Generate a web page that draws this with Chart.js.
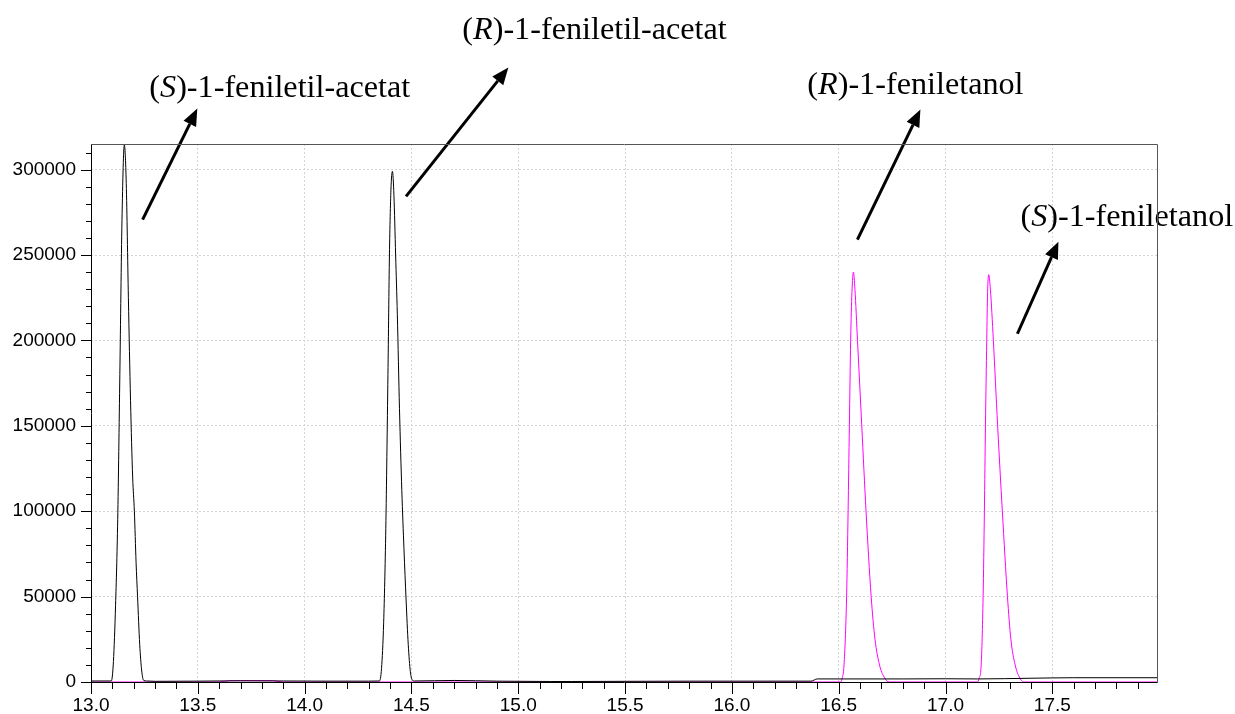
<!DOCTYPE html>
<html><head><meta charset="utf-8">
<script src="https://cdn.jsdelivr.net/npm/chart.js@4/dist/chart.umd.min.js"></script>
<style>html,body{margin:0;padding:0;background:#fff;} #wrap{width:1235px;height:714px;position:relative;}</style>
</head><body><div id="wrap"><canvas id="c"></canvas></div>
<script>
// Retention time (min) and detector signal for the acetate channel (black trace)
const acetateTimes = [13.00, 13.095, 13.105, 13.115, 13.125, 13.135, 13.145, 13.156, 13.165, 13.175, 13.185, 13.195, 13.203, 13.211, 13.218, 13.228, 13.237, 13.246, 13.26, 13.30, 13.50, 13.70, 13.90, 14.10, 14.30,
  14.35, 14.36, 14.37, 14.38, 14.39, 14.397, 14.404, 14.411, 14.418, 14.426, 14.434, 14.444, 14.455, 14.465, 14.475, 14.485, 14.495, 14.505, 14.515,
  14.70, 14.90, 15.15, 15.25, 15.50, 15.80, 16.10, 16.37, 16.40, 16.80, 17.00, 17.15, 17.40, 17.60, 17.99];
const acetateSignal = [600, 600, 12000, 45000, 95000, 180000, 270000, 314500, 292000, 225000, 165000, 120000, 100000, 70000, 50000, 22000, 7000, 1000, 600, 400, 500, 700, 600, 500, 500,
  600, 8000, 35000, 90000, 180000, 250000, 288000, 299000, 285000, 250000, 215000, 160000, 112000, 78000, 48000, 22000, 6000, 1000, 600,
  900, 500, 300, 300, 400, 500, 500, 500, 1800, 1800, 1900, 1800, 2200, 2500, 2500];

// Retention time (min) and detector signal for the ethanol channel (magenta trace)
const ethanolTimes = [13.00, 13.60, 13.65, 13.85, 13.90, 14.50, 16.509, 16.516, 16.525, 16.537, 16.544, 16.550, 16.556, 16.562, 16.569, 16.576, 16.588, 16.608, 16.628, 16.652, 16.670, 16.691, 16.712, 16.737,
  17.150, 17.157, 17.167, 17.176, 17.182, 17.187, 17.193, 17.197, 17.202, 17.210, 17.224, 17.244, 17.266, 17.290, 17.306, 17.326, 17.345, 17.366, 17.99];
const ethanolSignal = [0, 0, 800, 800, 0, 0, 0, 2000, 10000, 50000, 100000, 150000, 200000, 228000, 240000, 230000, 200000, 150000, 100000, 50000, 25000, 10000, 3000, 0,
  0, 2000, 10000, 50000, 100000, 150000, 200000, 228000, 238500, 230000, 200000, 150000, 100000, 50000, 25000, 10000, 3000, 0, 0];

// Axis tick labels
const xTickValues = [13.0, 13.5, 14.0, 14.5, 15.0, 15.5, 16.0, 16.5, 17.0, 17.5];
const yTickValues = [0, 50000, 100000, 150000, 200000, 250000, 300000];

// Peak annotations (text anchored in data coordinates)
const peakNames = [
  {pre: '(', it: 'S', post: ')-1-feniletil-acetat', t: 13.273, v: 342800},
  {pre: '(', it: 'R', post: ')-1-feniletil-acetat', t: 14.738, v: 376200},
  {pre: '(', it: 'R', post: ')-1-feniletanol', t: 16.353, v: 344500},
  {pre: '(', it: 'S', post: ')-1-feniletanol', t: 17.351, v: 267200}
];
const peakArrows = [
  {t0: 13.2416, v0: 270700, t1: 13.4977, v1: 335750},
  {t0: 14.4747, v0: 284370, t1: 14.9537, v1: 359780},
  {t0: 16.5876, v0: 259000, t1: 16.8825, v1: 335170},
  {t0: 17.3366, v0: 203900, t1: 17.5286, v1: 257820}
];

const toXY = (ts, vs) => ts.map((t, i) => ({x: t, y: vs[i]}));

const decor = {
  id: 'decor',
  afterDatasetsDraw(chart) {
    const {ctx, chartArea: a, scales: {x, y}} = chart;
    ctx.save();
    // tick marks
    ctx.strokeStyle = '#000';
    ctx.lineWidth = 1;
    for (let i = 0; i <= 31; i++) {
      const py = Math.round(y.getPixelForValue(i * 10000)) + 0.5;
      const len = i % 5 === 0 ? 10 : 5;
      ctx.beginPath(); ctx.moveTo(a.left - len, py); ctx.lineTo(a.left, py); ctx.stroke();
    }
    for (let i = 130; i <= 179; i++) {
      const px = Math.round(x.getPixelForValue(i / 10)) + 0.5;
      const len = i % 5 === 0 ? 12 : 7;
      ctx.beginPath(); ctx.moveTo(px, a.bottom); ctx.lineTo(px, a.bottom + len); ctx.stroke();
    }
    // annotations
    ctx.fillStyle = '#000';
    ctx.textBaseline = 'alphabetic';
    ctx.textAlign = 'left';
    const fs = 32.2;
    peakNames.forEach(p => {
      let px = x.getPixelForValue(p.t);
      const py = y.getPixelForValue(p.v);
      ctx.font = fs + 'px "Liberation Serif", "Times New Roman", serif';
      ctx.fillText(p.pre, px, py); px += ctx.measureText(p.pre).width;
      ctx.font = 'italic ' + fs + 'px "Liberation Serif", "Times New Roman", serif';
      ctx.fillText(p.it, px, py); px += ctx.measureText(p.it).width;
      ctx.font = fs + 'px "Liberation Serif", "Times New Roman", serif';
      ctx.fillText(p.post, px, py);
    });
    peakArrows.forEach(r => {
      const x0 = x.getPixelForValue(r.t0), y0 = y.getPixelForValue(r.v0);
      const x1 = x.getPixelForValue(r.t1), y1 = y.getPixelForValue(r.v1);
      const ang = Math.atan2(y1 - y0, x1 - x0);
      const hl = 17, hw = 7;
      const bx = x1 - hl * Math.cos(ang), by = y1 - hl * Math.sin(ang);
      ctx.lineWidth = 3;
      ctx.beginPath(); ctx.moveTo(x0, y0); ctx.lineTo(bx, by); ctx.stroke();
      ctx.beginPath();
      ctx.moveTo(x1, y1);
      ctx.lineTo(bx + hw * Math.sin(ang), by - hw * Math.cos(ang));
      ctx.lineTo(bx - hw * Math.sin(ang), by + hw * Math.cos(ang));
      ctx.closePath(); ctx.fill();
    });
    // frame
    ctx.lineWidth = 1;
    ctx.strokeStyle = '#555';
    const L = Math.round(a.left) + 0.5, R = Math.round(a.right) + 0.5, T = Math.round(a.top) + 0.5, B = Math.round(a.bottom) + 0.5;
    ctx.beginPath(); ctx.moveTo(L, T); ctx.lineTo(R, T); ctx.lineTo(R, B); ctx.stroke();
    ctx.strokeStyle = '#000';
    ctx.beginPath(); ctx.moveTo(L, T); ctx.lineTo(L, B); ctx.lineTo(R, B); ctx.stroke();
    ctx.restore();
  }
};

const tickFont = {family: '"Liberation Sans", Arial, sans-serif', size: 19};

new Chart(document.getElementById('c'), {
  type: 'line',
  data: {
    datasets: [
      {data: toXY(acetateTimes, acetateSignal), borderColor: '#000000', borderWidth: 1, pointRadius: 0, cubicInterpolationMode: 'monotone', fill: false},
      {data: toXY(ethanolTimes, ethanolSignal), borderColor: '#ff00ff', borderWidth: 1, pointRadius: 0, cubicInterpolationMode: 'monotone', fill: false}
    ]
  },
  options: {
    responsive: true,
    maintainAspectRatio: false,
    animation: false,
    events: [],
    layout: {padding: {top: 144, right: 78, left: 0, bottom: 0}},
    plugins: {legend: {display: false}, tooltip: {enabled: false}},
    scales: {
      x: {
        type: 'linear', min: 13.0, max: 17.99,
        afterFit: s => { s.height = 32; },
        afterBuildTicks: s => { s.ticks = xTickValues.map(v => ({value: v})); },
        ticks: {callback: v => Number(v).toFixed(1), font: tickFont, color: '#000', padding: 12, maxRotation: 0, autoSkip: false},
        grid: {drawTicks: false, lineWidth: 1, color: c => (c.tick && c.tick.value === 13.0) ? 'rgba(0,0,0,0)' : '#d4d4d4'},
        border: {display: false, dash: [2, 2]}
      },
      y: {
        min: 0, max: 315000,
        afterFit: s => { s.width = 91; },
        afterBuildTicks: s => { s.ticks = yTickValues.map(v => ({value: v})); },
        ticks: {callback: v => String(v), font: tickFont, color: '#000', padding: 15},
        grid: {drawTicks: false, lineWidth: 1, color: c => (c.tick && c.tick.value === 0) ? 'rgba(0,0,0,0)' : '#d4d4d4'},
        border: {display: false, dash: [2, 2]}
      }
    }
  },
  plugins: [decor]
});
</script></body></html>
